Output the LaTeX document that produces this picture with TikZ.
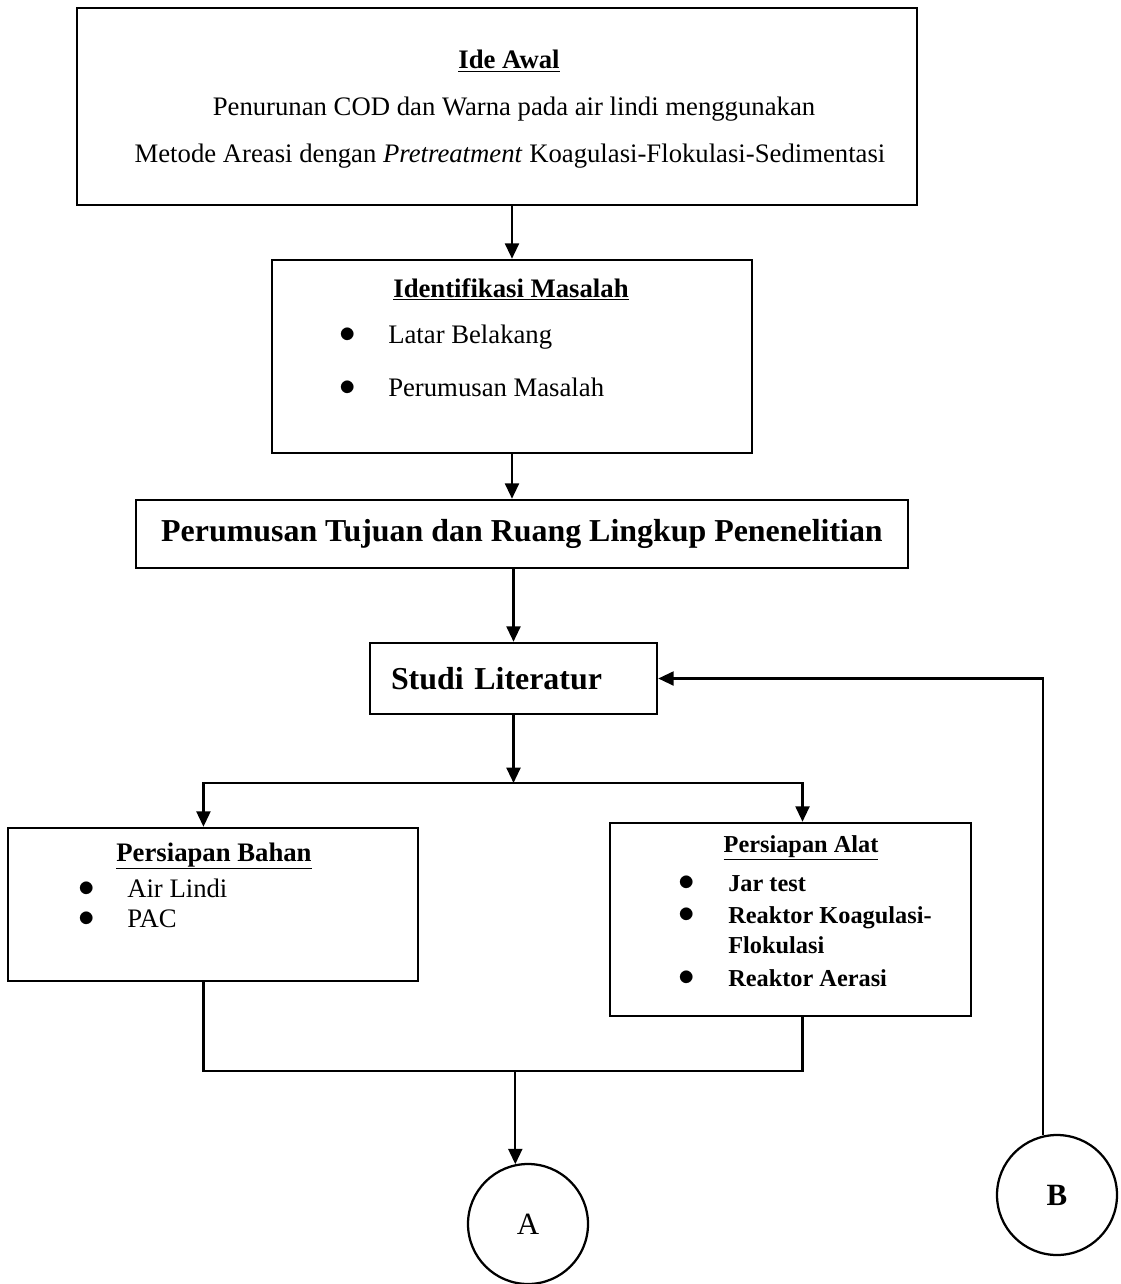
\documentclass[tikz,border=0pt]{standalone}
\usepackage{fontspec}
\setmainfont{Liberation Serif}
\usetikzlibrary{arrows.meta}
\newcommand{\cbul}{\raisebox{0.02em}{\scalebox{1.35}{$\bullet$}}}

\begin{document}
\begin{tikzpicture}
    \tikzset{cbox/.style={rectangle, line width=1.8pt, draw=black, fill=white, inner sep=0pt}}
    \tikzset{ccirc/.style={circle, line width=1.6pt, draw=black, fill=white, minimum size=3cm, inner sep=0pt, font=\fontsize{22}{26}\selectfont}}
    \tikzset{carrow/.style={-{Stealth[length=11pt, width=10pt, inset=0pt]}, line width=1.6pt}}
    \tikzset{cline/.style={line width=1.6pt}}
    \tikzset{ctext/.style={inner sep=0pt, font=\fontsize{19}{23}\selectfont}}
    \tikzset{ctitle/.style={inner sep=0pt, font=\fontsize{19}{23}\selectfont\bfseries}}
    \tikzset{csmall/.style={inner sep=0pt, font=\fontsize{17.3}{21}\selectfont\bfseries}}
    \useasboundingbox (0, 0) rectangle (28, -32.1);
    % Блоки схемы, сверху вниз:
    \node[cbox, minimum width=21cm, minimum height=4.925cm] (ide) at (12.425, -2.6625) {};
    \node[ctitle, anchor=base] (idet) at (12.725, -1.725) {\underline{Ide Awal}};
    \node[ctext, anchor=base] (ide1) at (12.85, -2.875) {Penurunan COD dan Warna pada air lindi menggunakan};
    \node[ctext, anchor=base] (ide2) at (12.75, -4.05) {Metode Areasi dengan \textit{Pretreatment} Koagulasi-Flokulasi-Sedimentasi};

    \node[cbox, minimum width=12cm, minimum height=4.825cm] (idm) at (12.8, -8.9125) {};
    \node[ctitle, anchor=base] (idmt) at (12.775, -7.425) {\underline{Identifikasi Masalah}};
    \node[ctext, anchor=base west] (idm1) at (8.475, -8.575) {\makebox[1.225cm][l]{\cbul}Latar Belakang};
    \node[ctext, anchor=base west] (idm2) at (8.475, -9.9) {\makebox[1.225cm][l]{\cbul}Perumusan Masalah};

    \node[cbox, minimum width=19.3cm, minimum height=1.7cm, font=\fontsize{22.7}{27}\selectfont\bfseries] (tuj) at (13.05, -13.35) {Perumusan Tujuan dan Ruang Lingkup Penenelitian};

    \node[cbox, minimum width=7.175cm, minimum height=1.775cm, text width=6.125cm, align=left, inner xsep=0.525cm, font=\fontsize{22.7}{27}\selectfont\bfseries] (lit) at (12.8375, -16.9625) {Studi Literatur};

    \node[cbox, minimum width=10.25cm, minimum height=3.825cm] (bhn) at (5.325, -22.6125) {};
    \node[ctitle, anchor=base] (bhnt) at (5.35, -21.525) {\underline{Persiapan Bahan}};
    \node[ctext, anchor=base west] (bhn1) at (1.95, -22.425) {\makebox[1.225cm][l]{\cbul}Air Lindi};
    \node[ctext, anchor=base west] (bhn2) at (1.95, -23.175) {\makebox[1.225cm][l]{\cbul}PAC};

    \node[cbox, minimum width=9.025cm, minimum height=4.825cm] (alt) at (19.7625, -22.9875) {};
    \node[csmall, anchor=base] (altt) at (20.025, -21.3) {\underline{Persiapan Alat}};
    \node[csmall, anchor=base west] (alt1) at (16.95, -22.275) {\makebox[1.25cm][l]{\cbul}Jar test};
    \node[csmall, anchor=base west] (alt2) at (16.95, -23.075) {\makebox[1.25cm][l]{\cbul}Reaktor Koagulasi-};
    \node[csmall, anchor=base west] (alt3) at (18.2, -23.825) {Flokulasi};
    \node[csmall, anchor=base west] (alt4) at (16.95, -24.65) {\makebox[1.25cm][l]{\cbul}Reaktor Aerasi};

    \node[ccirc] (A) at (13.2, -30.6) {A};
    \node[ccirc, font=\fontsize{22}{26}\selectfont\bfseries] (B) at (26.425, -29.875) {B};

    % Связи:
    \coordinate (split) at (12.8375, -19.575);
    \coordinate (merge) at (A.102 |- 0, -26.775);
    \draw[carrow] (ide.south -| idm.north) -- (idm.north);
    \draw[carrow] (idm.south) -- (idm.south |- tuj.north);
    \draw[carrow] (tuj.south -| lit.north) -- (lit.north);
    \draw[carrow] (lit.south) -- (split);
    \draw[carrow] (split) -| (bhn.97);
    \draw[carrow] (split) -| (alt.83);
    \draw[cline] (bhn.-97) |- (merge) -| (alt.-83);
    \draw[carrow] (merge) -- (A.102);
    \draw[carrow] (B.103) |- (lit.east);
\end{tikzpicture}
\end{document}
